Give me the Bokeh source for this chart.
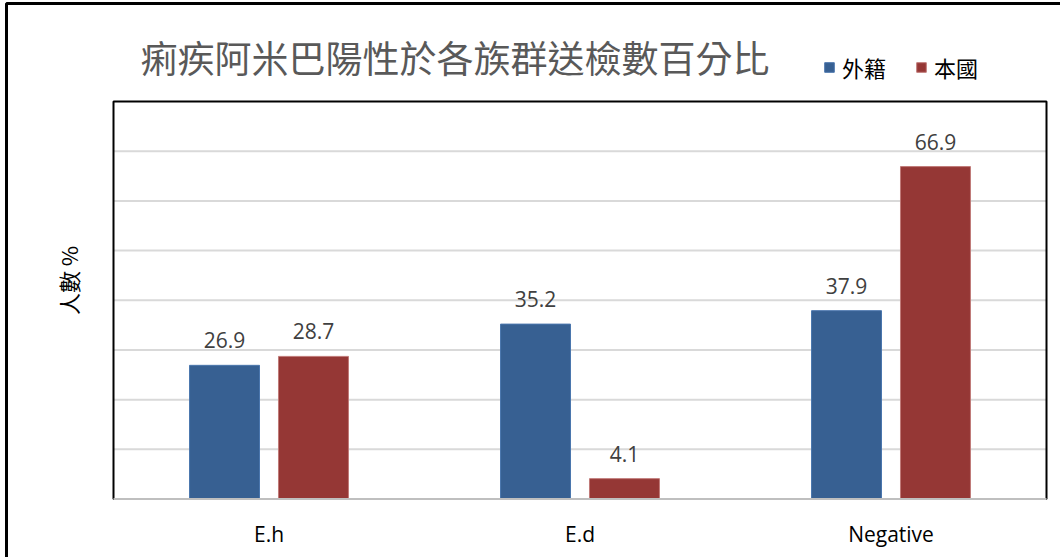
import math
from bokeh.plotting import figure
from bokeh.models import Range1d, Legend, LegendItem, ColumnDataSource
from bokeh.core.properties import value
from bokeh.embed import file_html
from bokeh.resources import INLINE

# ---------------- data ----------------
categories = ["E.h", "E.d", "Negative"]
foreign = [26.9, 35.2, 37.9]
local = [28.7, 4.1, 66.9]
series_names = ["外籍", "本國"]
title_text = "痢疾阿米巴陽性於各族群送檢數百分比"
y_label = "人數 %"
y_ticks = [10, 20, 30, 40, 50, 60, 70]
y_max = 80

BLUE = "#376092"
RED = "#953735"

# ---------------- geometry (canvas pixels) ----------------
W, H = 1060, 557
BX0, BX1 = 113, 1046      # inner plot box left / right
BY0, BY1 = 101, 498.5     # inner plot box top / bottom
n = len(categories)
xs = (BX1 - BX0) / n
ys = (BY1 - BY0) / y_max


def dx(px):
    return (px - BX0) / xs


def dy(py):
    return (BY1 - py) / ys


p = figure(width=W, height=H, output_backend="svg", toolbar_location=None,
           x_range=Range1d(dx(0), dx(W)), y_range=Range1d(dy(H), dy(0)),
           min_border=0, min_border_left=0, min_border_right=0,
           min_border_top=0, min_border_bottom=0)
p.axis.visible = False
p.grid.grid_line_color = None
p.outline_line_color = None
p.background_fill_color = "white"
p.border_fill_color = "white"

cat_pos = [i + 0.5 for i in range(n)]
bw = 0.225
off = 0.143

src = ColumnDataSource(dict(
    pos=cat_pos, cat=categories,
    fx=[c - off for c in cat_pos], lx=[c + off for c in cat_pos],
    foreign=foreign, local=local,
    flab=[f"{v:.1f}" for v in foreign], llab=[f"{v:.1f}" for v in local],
))

# outer chart border (only top and left edges fall inside the picture)
p.quad(left=dx(6), right=dx(W + 60), top=dy(3), bottom=dy(H + 60),
       fill_color=None, line_color="black", line_width=3)

# gridlines
p.segment(x0=0, x1=n, y0=y_ticks, y1=y_ticks, line_color="#d9d9d9", line_width=2)

# bars
rb = p.vbar(x="fx", top="foreign", width=bw, source=src,
            fill_color=BLUE, line_color="#4a76ad", line_width=1)
rr = p.vbar(x="lx", top="local", width=bw, source=src,
            fill_color=RED, line_color="#c07a78", line_width=1)

# value labels
for xcol, ycol, lab in (("fx", "foreign", "flab"), ("lx", "local", "llab")):
    p.text(x=xcol, y=ycol, text=lab, source=src,
           text_align="center", text_baseline="middle", y_offset=-25,
           text_font=value("Open Sans"), text_font_size="21px", text_color="#404040")

# plot box
p.quad(left=0, right=n, bottom=0, top=y_max, fill_color=None,
       line_color="black", line_width=2)
# category axis line
p.segment(x0=0, x1=n, y0=0, y1=0, line_color="#bfbfbf", line_width=2)

# category labels
p.text(x="pos", y=0, text="cat", source=src, text_align="center",
       text_baseline="middle", y_offset=35, text_font=value("Open Sans"),
       text_font_size="21px", text_color="#000000")

# y axis label
p.text(x=[dx(67)], y=[dy(280)], text=[y_label], angle=math.pi / 2,
       text_align="center", text_baseline="middle",
       text_font=value("Noto Sans CJK TC"), text_font_size="22px", text_color="#000000")

# title
p.text(x=[dx(140)], y=[dy(56)], text=[title_text], text_align="left",
       text_baseline="middle", text_font=value("Noto Sans CJK TC"),
       text_font_size="37px", text_color="#595959")

legend = Legend(items=[LegendItem(label=series_names[0], renderers=[rb]),
                       LegendItem(label=series_names[1], renderers=[rr])],
                orientation="horizontal", location=(823, 474),
                label_text_font="Noto Sans CJK TC", label_text_font_size="22px",
                label_text_color="#000000",
                glyph_width=12, glyph_height=12, label_standoff=7, spacing=29,
                padding=0, margin=0, border_line_color=None, background_fill_alpha=0)
p.add_layout(legend, "center")

open("out.html", "w").write(file_html(p, INLINE))
